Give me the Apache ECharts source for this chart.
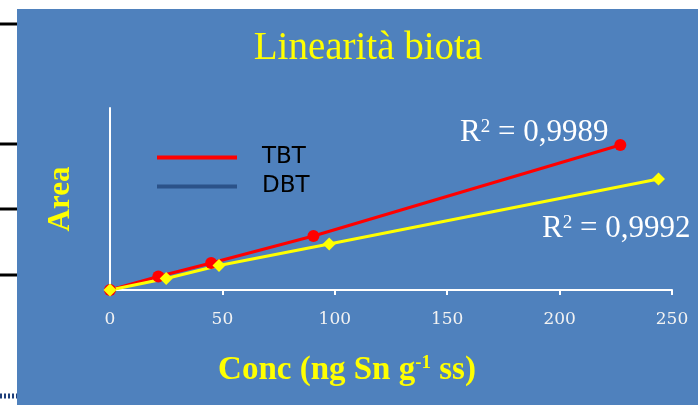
<!DOCTYPE html>
<html>
<head>
<meta charset="utf-8">
<script src="https://cdn.jsdelivr.net/npm/echarts@6/dist/echarts.min.js"></script>
<style>
  html, body { margin: 0; padding: 0; }
  #main { width: 698px; height: 405px; }
</style>
</head>
<body>
<div id="main"></div>
<script>
// values (y has no scale, units are arbitrary)
const seriesNames = ['TBT', 'DBT']
const tbtConc = [0, 21.5, 45, 90.5, 227]
const tbtArea = [0, 13.5, 27, 54, 145]
const dbtConc = [0, 25, 48.5, 97.5, 244]
const dbtArea = [0, 11.5, 24.5, 46, 111]
const xTicks = [0, 50, 100, 150, 200, 250]
const r2Labels = ['0,9989', '0,9992']

const pairs = (xs, ys) => xs.map((x, i) => [x, ys[i]])

const chart = echarts.init(document.getElementById('main'))

// black marks on the white strip at the left edge of the slide
const leftMarks = [24, 144, 209, 275].map(y => ({
  type: 'line',
  shape: { x1: 0, y1: y, x2: 17, y2: y },
  style: { stroke: '#000', lineWidth: 3 }
}))

const r2Text = (x, y, value) => ({
  type: 'text',
  x: x,
  y: y,
  style: {
    text: 'R{sup|2} = ' + value,
    fill: '#fff',
    font: '31px "Liberation Serif"',
    align: 'left',
    verticalAlign: 'middle',
    rich: {
      sup: { font: '19px "Liberation Serif"', fill: '#fff', verticalAlign: 'top' }
    }
  }
})

chart.setOption({
  backgroundColor: '#4F81BD',
  animation: false,
  grid: { left: 110, right: 26, top: 108, bottom: 115 },
  legend: {
    orient: 'vertical',
    left: 157,
    top: 146,
    padding: 0,
    itemWidth: 80,
    itemHeight: 4,
    itemGap: 6,
    textStyle: {
      fontFamily: 'DejaVu Sans',
      fontSize: 23,
      lineHeight: 23,
      color: '#000',
      padding: [0, 0, 0, 20]
    },
    data: [
      { name: seriesNames[0], icon: 'rect' },
      { name: seriesNames[1], icon: 'rect', itemStyle: { color: '#2B5289' } }
    ]
  },
  xAxis: {
    type: 'value',
    min: xTicks[0],
    max: xTicks[xTicks.length - 1],
    interval: 50,
    splitLine: { show: false },
    axisLine: { lineStyle: { color: '#fff', width: 2 } },
    axisTick: { length: 5, lineStyle: { color: '#fff', width: 2 } },
    axisLabel: {
      margin: 21,
      color: '#F2F2F2',
      fontFamily: 'DejaVu Serif',
      fontSize: 17
    }
  },
  yAxis: {
    type: 'value',
    min: 0,
    max: 182,
    splitLine: { show: false },
    axisTick: { show: false },
    axisLabel: { show: false },
    axisLine: { show: true, lineStyle: { color: '#fff', width: 2 } }
  },
  series: [
    {
      name: seriesNames[0],
      type: 'line',
      data: pairs(tbtConc, tbtArea),
      color: '#FF0000',
      symbol: 'circle',
      symbolSize: 12,
      lineStyle: { width: 3 }
    },
    {
      name: seriesNames[1],
      type: 'line',
      data: pairs(dbtConc, dbtArea),
      color: '#FFFF00',
      symbol: 'diamond',
      symbolSize: 13,
      lineStyle: { width: 3 }
    }
  ],
  graphic: [
    { type: 'rect', shape: { x: 0, y: 0, width: 17, height: 405 }, style: { fill: '#fff' } },
    { type: 'rect', shape: { x: 0, y: 0, width: 698, height: 9 }, style: { fill: '#fff' } },
    ...leftMarks,
    {
      type: 'line',
      shape: { x1: 0, y1: 396, x2: 17, y2: 396 },
      style: { stroke: '#1F3F7A', lineWidth: 5, lineDash: [2, 2] }
    },
    {
      type: 'text',
      x: 368,
      y: 49,
      style: {
        text: 'Linearità biota',
        fill: '#FFFF00',
        font: '39px "Liberation Serif"',
        align: 'center',
        verticalAlign: 'middle'
      }
    },
    {
      type: 'text',
      x: 61,
      y: 199,
      rotation: Math.PI / 2,
      style: {
        text: 'Area',
        fill: '#FFFF00',
        font: 'bold 31px "Liberation Serif"',
        align: 'center',
        verticalAlign: 'middle'
      }
    },
    {
      type: 'text',
      x: 347,
      y: 370,
      style: {
        text: 'Conc (ng Sn g{sup|-1} ss)',
        fill: '#FFFF00',
        font: 'bold 33px "Liberation Serif"',
        align: 'center',
        verticalAlign: 'middle',
        rich: {
          sup: { font: 'bold 19px "Liberation Serif"', fill: '#FFFF00', verticalAlign: 'top' }
        }
      }
    },
    r2Text(460, 133, r2Labels[0]),
    r2Text(542, 229, r2Labels[1])
  ]
})
</script>
</body>
</html>
